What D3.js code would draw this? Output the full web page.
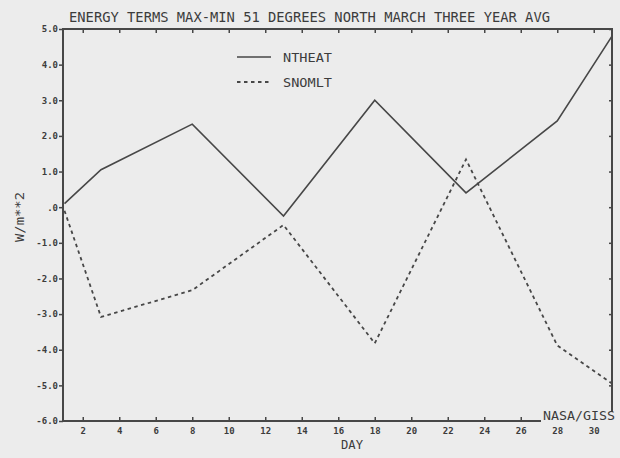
<!DOCTYPE html>
<html>
<head>
<meta charset="utf-8">
<script src="https://cdn.jsdelivr.net/npm/d3@7"></script>
<style>
  body { margin: 0; background: #ececec; }
  svg { display: block; }
  text { font-family: "DejaVu Sans Mono", "Liberation Mono", monospace; fill: #3c3c3c; }
</style>
</head>
<body>
<svg id="plot"></svg>
<script>
// Data
var days = [1, 3, 8, 13, 18, 23, 28, 31];
var ntheat = [0.1, 1.05, 2.33, -0.25, 3.0, 0.4, 2.42, 4.8];
var snomlt = [-0.1, -3.08, -2.33, -0.5, -3.82, 1.34, -3.88, -4.95];
var seriesNames = ['NTHEAT', 'SNOMLT'];
var yTicks = [5, 4, 3, 2, 1, 0, -1, -2, -3, -4, -5, -6];
var xTicks = [2, 4, 6, 8, 10, 12, 14, 16, 18, 20, 22, 24, 26, 28, 30];

var width = 620, height = 458;
var box = {left: 63, top: 29, right: 612, bottom: 421};
var ink = '#474747';

var svg = d3.select('#plot')
  .attr('width', width)
  .attr('height', height);

svg.append('rect')
  .attr('width', width)
  .attr('height', height)
  .attr('fill', '#ececec');

// Scales
var xScale = d3.scaleLinear().domain([1, 31]).range([64.5, 612]);
var yScale = d3.scaleLinear().domain([-6, 5]).range([box.bottom, box.top]);

var fmt = function(d) { return d === 0 ? '.0' : d.toFixed(1); };

// Left axis, ticks outside
var yAxis = svg.append('g')
  .attr('transform', 'translate(' + box.left + ',0)')
  .call(d3.axisLeft(yScale).tickValues(yTicks).tickFormat(fmt).tickSize(4).tickPadding(1));
yAxis.select('.domain').remove();
yAxis.selectAll('line').attr('stroke', ink).attr('stroke-width', 1.5);
yAxis.selectAll('text')
  .style('font-size', '9px')
  .style('font-weight', 'bold')
  .attr('fill', '#3c3c3c');

// Right axis, ticks inside (corner cut by label)
var yRight = svg.append('g')
  .attr('transform', 'translate(' + box.right + ',0)')
  .call(d3.axisRight(yScale).tickValues(yTicks.filter(d => d > -6)).tickFormat('').tickSize(-3));
yRight.select('.domain').remove();
yRight.selectAll('line').attr('stroke', ink).attr('stroke-width', 1.5);

// Top axis, ticks inside
var xTop = svg.append('g')
  .attr('transform', 'translate(0,' + box.top + ')')
  .call(d3.axisTop(xScale).tickValues(xTicks).tickFormat('').tickSize(-4));
xTop.select('.domain').remove();
xTop.selectAll('line').attr('stroke', ink).attr('stroke-width', 1.5);

// Bottom axis, ticks inside, labels below
var xAxis = svg.append('g')
  .attr('transform', 'translate(0,' + box.bottom + ')')
  .call(d3.axisBottom(xScale).tickValues(xTicks).tickSize(-4).tickPadding(7));
xAxis.select('.domain').remove();
xAxis.selectAll('line')
  .attr('stroke', ink).attr('stroke-width', 1.5)
  .attr('opacity', d => d > 26 ? 0 : 1);
xAxis.selectAll('text')
  .style('font-size', '9px')
  .style('font-weight', 'bold')
  .attr('fill', '#3c3c3c');

// Frame with the lower right corner left open for the NASA/GISS label
svg.append('path')
  .attr('d', 'M541,' + box.bottom + 'H' + box.left + 'V' + box.top + 'H' + box.right + 'V412')
  .attr('fill', 'none')
  .attr('stroke', ink)
  .attr('stroke-width', 2);

svg.append('text')
  .attr('x', 543)
  .attr('y', 420)
  .attr('textLength', 72)
  .attr('lengthAdjust', 'spacingAndGlyphs')
  .style('font-size', '12px')
  .text('NASA/GISS');

// Lines
var line = d3.line()
  .x((d, i) => xScale(days[i]))
  .y(d => yScale(d));

svg.append('path')
  .datum(ntheat)
  .attr('d', line)
  .attr('fill', 'none')
  .attr('stroke', ink)
  .attr('stroke-width', 1.6);

svg.append('path')
  .datum(snomlt)
  .attr('d', line)
  .attr('fill', 'none')
  .attr('stroke', ink)
  .attr('stroke-width', 1.8)
  .attr('stroke-dasharray', '3.5,3.5');

// Legend
var legend = svg.selectAll('.legend')
  .data(seriesNames)
  .enter().append('g')
  .attr('class', 'legend')
  .attr('transform', (d, i) => 'translate(237,' + (57 + i * 25) + ')');

legend.append('line')
  .attr('x1', 0).attr('x2', 34)
  .attr('stroke', ink)
  .attr('stroke-width', (d, i) => i === 0 ? 1.6 : 1.8)
  .attr('stroke-dasharray', (d, i) => i === 0 ? null : '3.5,3.5');

legend.append('text')
  .attr('x', 46)
  .attr('dy', '0.36em')
  .attr('textLength', 49)
  .attr('lengthAdjust', 'spacingAndGlyphs')
  .style('font-size', '13px')
  .text(d => d);

// Title
svg.append('text')
  .attr('x', 69)
  .attr('y', 22)
  .attr('textLength', 481)
  .attr('lengthAdjust', 'spacingAndGlyphs')
  .style('font-size', '14px')
  .text('ENERGY TERMS MAX-MIN 51 DEGREES NORTH MARCH THREE YEAR AVG');

// Axis labels
svg.append('text')
  .attr('x', 352)
  .attr('y', 449)
  .attr('text-anchor', 'middle')
  .attr('textLength', 22)
  .attr('lengthAdjust', 'spacingAndGlyphs')
  .style('font-size', '13px')
  .text('DAY');

svg.append('text')
  .attr('transform', 'translate(24,217) rotate(-90)')
  .attr('text-anchor', 'middle')
  .attr('textLength', 50)
  .attr('lengthAdjust', 'spacingAndGlyphs')
  .style('font-size', '12px')
  .text('W/m**2');
</script>
</body>
</html>
